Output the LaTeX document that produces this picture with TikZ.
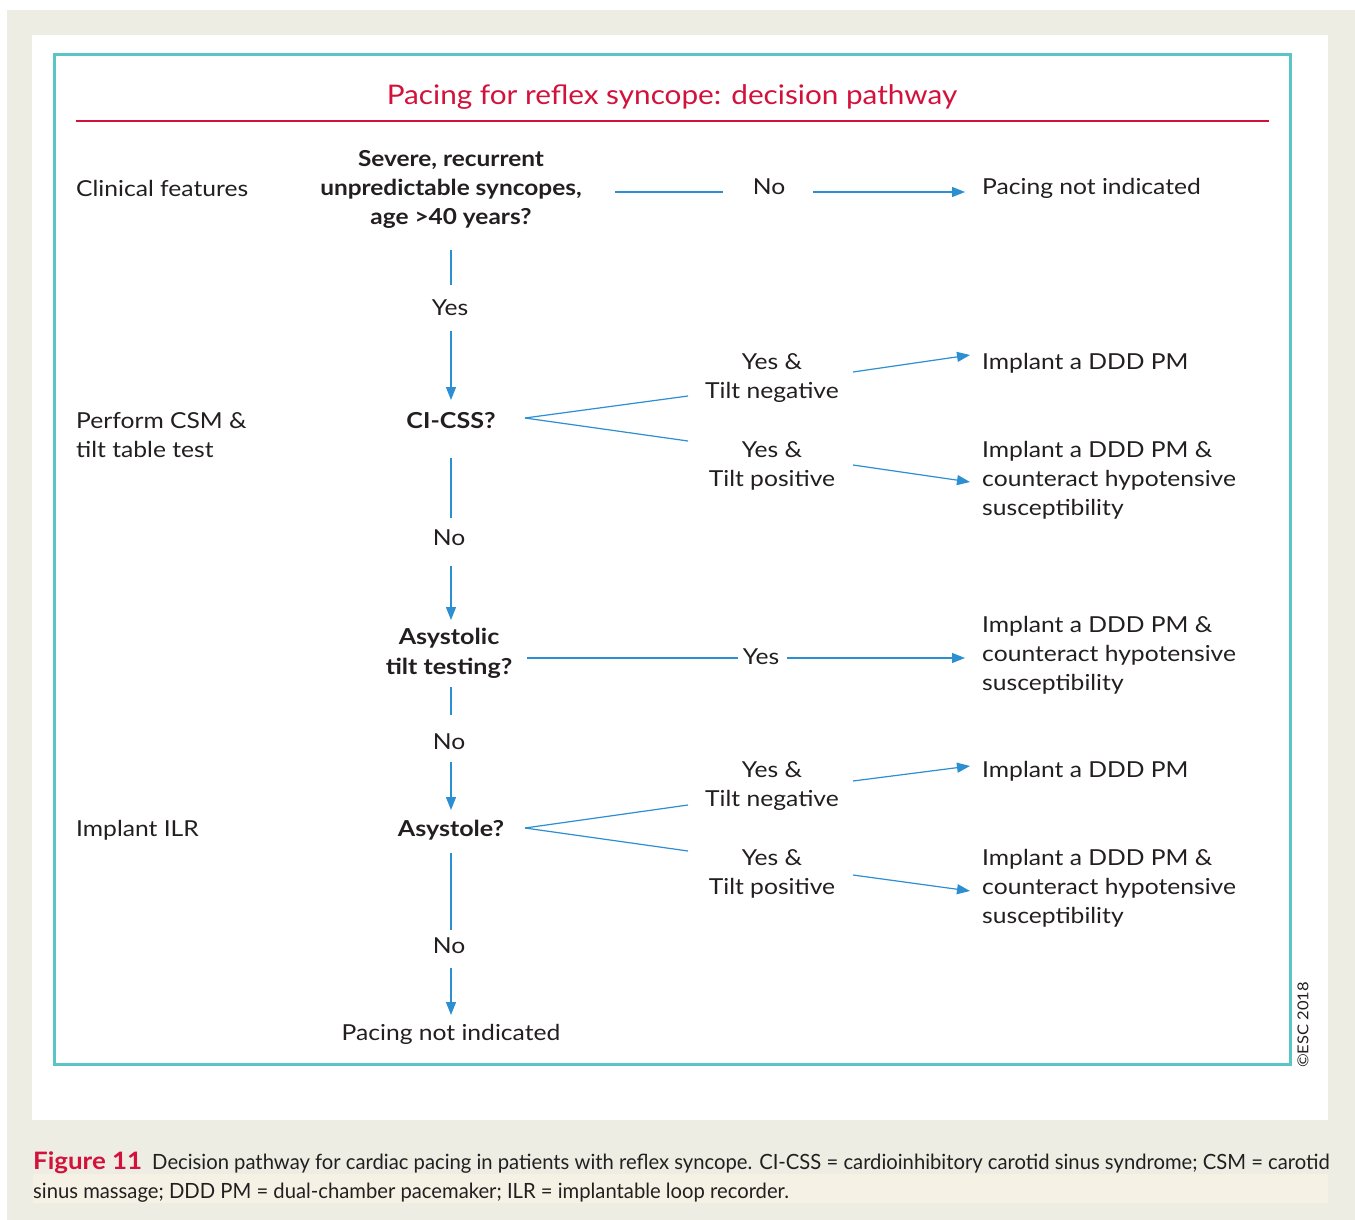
\documentclass[tikz,border=0pt]{standalone}
\usepackage{fontspec}
\setmainfont{Lato}[FakeStretch=1.12]
\newfontfamily\qfont{Lato}[FakeStretch=1.14]
\newfontfamily\qonefont{Lato}[FakeStretch=1.11]
\newfontfamily\titlefont{Lato}[FakeStretch=1.1]
\newfontfamily\capfont{Lato}[FakeStretch=0.963]
\newfontfamily\figfont{Lato}[FakeStretch=1.08]
\usetikzlibrary{arrows.meta}
\definecolor{bgbeige}{HTML}{EEEDE3}
\definecolor{bandbeige}{HTML}{F5F2E5}
\definecolor{tealc}{HTML}{5CC4C6}
\definecolor{redc}{HTML}{D3123C}
\definecolor{bluec}{HTML}{2B8FD2}
\definecolor{textc}{HTML}{231F20}
\tikzset{
  x=1pt, y=-1pt,
  txt/.style={inner sep=0pt, text=textc, font=\fontsize{22}{29}\selectfont, align=center},
  ltxt/.style={txt, anchor=west, align=left},
  qtxt/.style={txt, font=\fontsize{22}{30}\selectfont\qfont\bfseries},
  q1txt/.style={txt, font=\fontsize{22}{29}\selectfont\qonefont\bfseries},
  conn/.style={draw=bluec, line width=1.2pt},
  arr/.style={conn, -{Triangle[length=13pt,width=10pt]}},
}
\begin{document}
\begin{tikzpicture}
\useasboundingbox (0,0) rectangle (1355,1220);
% backgrounds
\fill[white] (0,0) rectangle (1355,1220);
\fill[bgbeige] (7,10) rectangle (1355,1220);
\fill[white] (32,35) rectangle (1328,1120);
\fill[bandbeige] (33,1174) rectangle (1328,1203);
\draw[tealc, line width=3pt] (54,55) rectangle (1290,1064);
% title
\node[inner sep=0pt, text=redc, font=\fontsize{27}{30}\selectfont\titlefont] (title) at (672,97) {Pacing for reflex syncope: decision pathway};
\draw[redc, line width=2.5pt] (76,121) -- (1269,121);
% left column
\node[ltxt] (lclin) at (76,188) {Clinical features};
\node[ltxt] (lcsm) at (76,435) {Perform CSM \&\\tilt table test};
\node[ltxt] (lilr) at (76,830) {Implant ILR};
% main column
\node[q1txt] (q1) at (451,189) {Severe, recurrent\\unpredictable syncopes,\\age >40 years?};
\node[txt] (yes1) at (450,308) {Yes};
\node[qtxt] (q2) at (451,421) {CI-CSS?};
\node[txt] (no2) at (449,538) {No};
\node[qtxt] (q3) at (449,653) {Asystolic\\tilt testing?};
\node[txt] (no3) at (449,742) {No};
\node[qtxt] (q4) at (451,830) {Asystole?};
\node[txt] (no4) at (449,946) {No};
\node[txt] (pni2) at (451,1034) {Pacing not indicated};
% middle column
\node[txt] (no1) at (769,187) {No};
\node[txt] (yn1) at (772,378) {Yes \&\\Tilt negative};
\node[txt] (yp1) at (772,466) {Yes \&\\Tilt positive};
\node[txt] (yes3) at (761,657) {Yes};
\node[txt] (yn2) at (772,786) {Yes \&\\Tilt negative};
\node[txt] (yp2) at (772,874) {Yes \&\\Tilt positive};
% right column
\node[ltxt] (pni1) at (982,188) {Pacing not indicated};
\node[ltxt] (ddd1) at (982,363) {Implant a DDD PM};
\node[ltxt] (ddd2) at (982,480) {Implant a DDD PM \&\\counteract hypotensive\\susceptibility};
\node[ltxt] (ddd3) at (982,655) {Implant a DDD PM \&\\counteract hypotensive\\susceptibility};
\node[ltxt] (ddd4) at (982,771) {Implant a DDD PM};
\node[ltxt] (ddd5) at (982,888) {Implant a DDD PM \&\\counteract hypotensive\\susceptibility};
% connectors row 1
\draw[conn] ([shift={(164,3)}]q1.center) -- ([shift={(-46,5)}]no1.center);
\draw[arr] ([shift={(44,5)}]no1.center) -- ([shift={(-17,4)}]pni1.west);
% vertical chain
\draw[conn] ([shift={(0,61)}]q1.center) -- ([shift={(1,-23)}]yes1.center);
\draw[arr] ([shift={(1,23)}]yes1.center) -- ([shift={(0,-21)}]q2.center);
\draw[conn] ([shift={(0,37)}]q2.center) -- ([shift={(2,-20)}]no2.center);
\draw[arr] ([shift={(2,28)}]no2.center) -- ([shift={(2,-33)}]q3.center);
\draw[conn] ([shift={(2,34)}]q3.center) -- ([shift={(2,-27)}]no3.center);
\draw[arr] ([shift={(2,20)}]no3.center) -- ([shift={(0,-20)}]q4.center);
\draw[conn] ([shift={(0,23)}]q4.center) -- ([shift={(2,-16)}]no4.center);
\draw[arr] ([shift={(2,22)}]no4.center) -- ([shift={(0,-19)}]pni2.center);
% CI-CSS branches
\coordinate (b2) at ([shift={(74,-3)}]q2.center);
\draw[conn] (b2) -- ([shift={(-84,18)}]yn1.center);
\draw[conn] (b2) -- ([shift={(-84,-25)}]yp1.center);
\draw[arr] ([shift={(81,-6)}]yn1.center) -- ([shift={(-12,-8)}]ddd1.west);
\draw[arr] ([shift={(81,-1)}]yp1.center) -- ([shift={(-12,2)}]ddd2.west);
% asystolic tilt
\draw[conn] ([shift={(78,5)}]q3.center) -- ([shift={(-23,1)}]yes3.center);
\draw[arr] ([shift={(26,1)}]yes3.center) -- ([shift={(-17,3)}]ddd3.west);
% Asystole branches
\coordinate (b4) at ([shift={(74,-2)}]q4.center);
\draw[conn] (b4) -- ([shift={(-84,19)}]yn2.center);
\draw[conn] (b4) -- ([shift={(-84,-23)}]yp2.center);
\draw[arr] ([shift={(81,-5)}]yn2.center) -- ([shift={(-12,-5)}]ddd4.west);
\draw[arr] ([shift={(81,1)}]yp2.center) -- ([shift={(-12,3)}]ddd5.west);
% copyright
\node[inner sep=0pt, rotate=90, text=textc, font=\fontsize{15}{17}\selectfont\titlefont] (copy) at (1303,1025) {\textcopyright ESC 2018};
% caption
\node[inner sep=0pt, anchor=north west, align=left, text=textc, font=\fontsize{21}{29}\selectfont\capfont] (cap) at (33,1151) {{\color{redc}\fontsize{24}{29}\selectfont\figfont\bfseries Figure 11}\hspace{10pt}Decision pathway for cardiac pacing in patients with reflex syncope. CI-CSS = cardioinhibitory carotid sinus syndrome; CSM = carotid\\sinus massage; DDD PM = dual-chamber pacemaker; ILR = implantable loop recorder.};
\end{tikzpicture}
\end{document}
